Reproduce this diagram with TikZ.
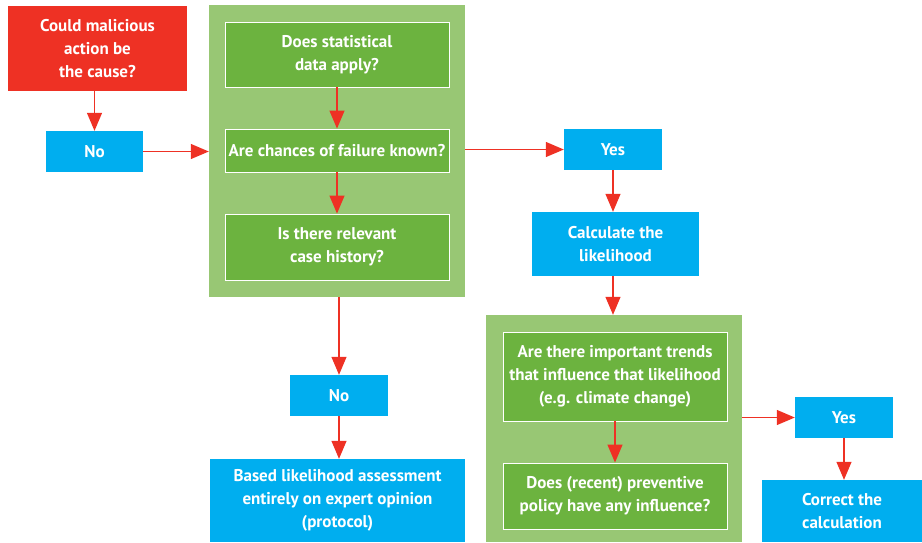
\documentclass[tikz,border=0pt]{standalone}
\usepackage{fontspec}
\setmainfont{PT Sans}
\usetikzlibrary{arrows.meta,calc}
\definecolor{cred}{HTML}{EE3124}
\definecolor{cblue}{HTML}{00AEEF}
\definecolor{cpanel}{HTML}{98C774}
\definecolor{cdark}{HTML}{6CB33F}
\begin{document}
\begin{tikzpicture}[x=1pt,y=-1pt,
  lbl/.style={text=white,font=\fontsize{17}{23}\selectfont\bfseries,align=center,inner sep=0pt},
  bluebox/.style={lbl,fill=cblue},
  panel/.style={fill=cpanel,inner sep=0pt},
  darkbox/.style={lbl,fill=cdark,draw=white,line width=0.9pt},
  arr/.style={draw=cred,line width=1.3pt,-{Triangle[width=15pt,length=18pt]}}]
\useasboundingbox (0,0) rectangle (922,542);
% panels
\node[panel,minimum width=256pt,minimum height=292pt] (p1) at (337,151) {};
\node[panel,minimum width=256pt,minimum height=227pt] (p2) at (614,428.5) {};
% boxes
\node[lbl,fill=cred,minimum width=179pt,minimum height=85pt] (red) at (97.5,48.5) {Could malicious\\action be\\the cause?};
\node[bluebox,minimum width=97pt,minimum height=41pt] (no1) at (94.5,151.5) {No};
\node[darkbox,minimum width=224pt,minimum height=65pt] (s1) at (337,54.5) {Does statistical\\data apply?};
\node[darkbox,minimum width=224pt,minimum height=43pt] (s2) at (337,150.5) {Are chances of failure known?};
\node[darkbox,minimum width=224pt,minimum height=66pt] (s3) at (337,247) {Is there relevant\\case history?};
\node[bluebox,minimum width=98pt,minimum height=41pt] (yes1) at (613,149.5) {Yes};
\node[bluebox,minimum width=167pt,minimum height=64pt] (calc) at (615.5,244) {Calculate the\\likelihood};
\node[darkbox,minimum width=224pt,minimum height=89pt] (t1) at (615,376.5) {Are there important trends\\that influence that likelihood\\(e.g. climate change)};
\node[darkbox,minimum width=224pt,minimum height=66pt] (t2) at (615,496) {Does (recent) preventive\\policy have any influence?};
\node[bluebox,minimum width=98pt,minimum height=41pt] (yes2) at (844,417.5) {Yes};
\node[bluebox,minimum width=160pt,minimum height=62pt] (corr) at (842,511) {Correct the\\calculation};
\node[bluebox,minimum width=98pt,minimum height=41pt] (no2) at (339,395.5) {No};
\node[bluebox,minimum width=255pt,minimum height=83pt] (based) at (337.5,500.5) {Based likelihood assessment\\entirely on expert opinion\\(protocol)};
% arrows
\draw[arr] (red.south -| no1) -- (no1.north);
\draw[arr] (no1.east) -- (no1.east -| p1.west);
\draw[arr] (s1.south) -- (s2.north);
\draw[arr] (s2.south) -- (s3.north);
\draw[arr] (p1.east |- yes1) -- (yes1.west);
\draw[arr] (yes1.south) -- (yes1.south |- calc.north);
\draw[arr] (calc.south -| yes1) -- (p2.north -| yes1);
\draw[arr] (t1.south) -- (t2.north);
\draw[arr] (p2.east |- yes2) -- (yes2.west);
\draw[arr] (yes2.south) -- (yes2.south |- corr.north);
\draw[arr] (p1.south -| no2) -- (no2.north);
\draw[arr] (no2.south) -- (no2.south |- based.north);
\end{tikzpicture}
\end{document}
